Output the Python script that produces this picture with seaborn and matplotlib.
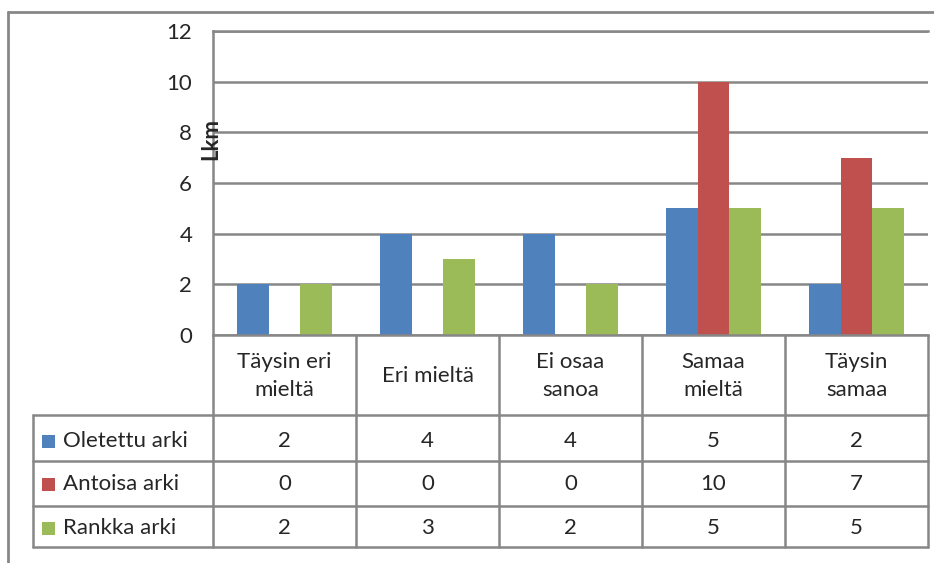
import matplotlib
matplotlib.use("Agg")
import matplotlib.pyplot as plt
import seaborn as sns
import pandas as pd
from matplotlib.transforms import blended_transform_factory
from matplotlib.patches import Rectangle

# ---- data ----
categories = ["Täysin eri\nmieltä", "Eri mieltä", "Ei osaa\nsanoa", "Samaa\nmieltä", "Täysin\nsamaa"]
series = ["Oletettu arki", "Antoisa arki", "Rankka arki"]
oletettu = [2, 4, 4, 5, 2]
antoisa = [0, 0, 0, 10, 7]
rankka = [2, 3, 2, 5, 5]
colors = ["#4F81BD", "#C0504D", "#9BBB59"]
yticks = [0, 2, 4, 6, 8, 10, 12]
ylabel = "Lkm"

values = [oletettu, antoisa, rankka]
df = pd.DataFrame({
    "cat": [c for _ in series for c in categories],
    "series": [s for s in series for _ in categories],
    "val": [v for vals in values for v in vals],
})

sns.set_style("white")
plt.rcParams["font.family"] = ["Lato", "DejaVu Sans"]
GRID = "#878787"
FS = 16

W, H = 934, 563
fig = plt.figure(figsize=(W / 100, H / 100), dpi=100)

# plot area in pixels: x 213..928, y 31..335
ax = fig.add_axes([213 / W, 1 - 335 / H, 715 / W, 304 / H])
sns.barplot(data=df, x="cat", y="val", hue="series", order=categories,
            hue_order=series, palette=colors, width=0.67, saturation=1,
            legend=False, ax=ax, linewidth=0)
ax.set_xlim(-0.5, len(categories) - 0.5)
ax.set_ylim(0, 12)
ax.set_yticks(yticks)
ax.set_yticklabels([str(t) for t in yticks], fontsize=FS)
ax.set_xticks([])
ax.set_xlabel("")
ax.set_ylabel("")
ax.tick_params(axis="y", length=0, pad=15)
ax.yaxis.grid(True, color=GRID, lw=1.8)
ax.set_axisbelow(True)
for side in ["left", "bottom", "top"]:
    ax.spines[side].set_visible(True)
    ax.spines[side].set_color(GRID)
    ax.spines[side].set_linewidth(1.8)
ax.spines["right"].set_visible(False)

# overlay in pixel coordinates
ov = fig.add_axes([0, 0, 1, 1], zorder=5)
ov.set_xlim(0, W)
ov.set_ylim(H, 0)
ov.axis("off")
ov.patch.set_alpha(0)

# outer chart frame
ov.plot([8, 8], [H, 12], color=GRID, lw=2)
ov.plot([8, W], [12, 12], color=GRID, lw=2)

# y label
ov.text(211, 139, ylabel, rotation=90, ha="center", va="center",
        fontsize=16, fontweight="bold")

# data table
bt = blended_transform_factory(ax.transData, ov.transData)
row_lines = [415, 461, 506, 547]
for y in row_lines:
    ov.plot([33, 928], [y, y], color=GRID, lw=1.8)
ov.plot([33, 33], [415, 547], color=GRID, lw=1.8)
for i in range(len(categories) + 1):
    ov.plot([i - 0.5, i - 0.5], [335, 547], color=GRID, lw=1.8, transform=bt)

for i, c in enumerate(categories):
    ov.text(i, 376, c, ha="center", va="center", fontsize=FS,
            linespacing=1.45, transform=bt)

row_centers = [441, 484, 528]
for r, (s, vals, col) in enumerate(zip(series, values, colors)):
    yc = row_centers[r]
    ov.add_patch(Rectangle((42, yc - 6.5), 13, 13, color=col, lw=0))
    ov.text(63, yc, s, ha="left", va="center", fontsize=FS)
    for i, v in enumerate(vals):
        ov.text(i, yc, str(v), ha="center", va="center", fontsize=FS,
                transform=bt)

fig.savefig("out.png", dpi=100)
